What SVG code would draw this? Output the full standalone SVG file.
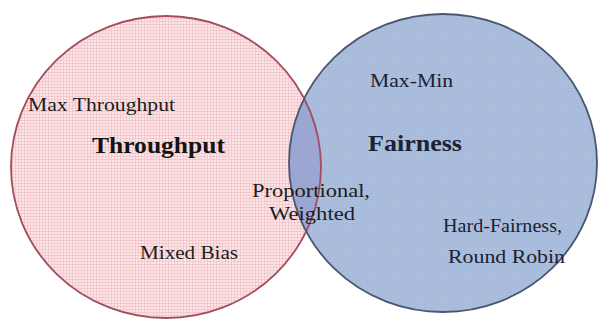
<svg xmlns="http://www.w3.org/2000/svg" width="598" height="322" viewBox="0 0 598 322">
  <defs>
    <pattern id="pinkGrid" width="3" height="3" patternUnits="userSpaceOnUse">
      <rect width="3" height="3" fill="#fbe6e8"/>
      <path d="M0 0.5H3M0.5 0V3" stroke="#f3c9ce" stroke-width="1"/>
    </pattern>
    <pattern id="blueDots" width="3" height="3" patternUnits="userSpaceOnUse">
      <rect width="3" height="3" fill="#aabddc"/>
      <rect x="1" y="1" width="1" height="1" fill="#a0b4d6"/>
    </pattern>
    <clipPath id="rightClip">
      <ellipse cx="443" cy="163" rx="154" ry="149"/>
    </clipPath>
  </defs>
  <style>
    text { font-family: 'Liberation Serif', 'Times New Roman', Times, serif; }
    .lbl { font-size: 19px; fill: #1c1c1c; }
    .ttl { font-size: 24px; font-weight: bold; fill: #141414; }
    .blue { fill: #1a2233; }
  </style>
  <rect width="598" height="322" fill="#ffffff"/>

  <g id="throughput">
    <ellipse cx="166" cy="167" rx="155" ry="151" fill="url(#pinkGrid)"/>
  </g>
  <g id="fairness">
    <ellipse cx="443" cy="163" rx="154" ry="149" fill="url(#blueDots)"/>
  </g>
  <g id="overlap">
    <ellipse cx="166" cy="167" rx="155" ry="151" fill="#9ba7d2" clip-path="url(#rightClip)"/>
  </g>
  <g id="outlines">
    <ellipse cx="166" cy="167" rx="155" ry="151" fill="none" stroke="#a24c5c" stroke-width="1.8"/>
    <ellipse cx="443" cy="163" rx="154" ry="149" fill="none" stroke="#4a5670" stroke-width="1.8"/>
  </g>
  <g id="connectors"/>

  <g id="throughput-labels">
    <text class="lbl" x="28" y="111" textLength="147" lengthAdjust="spacingAndGlyphs">Max Throughput</text>
    <text class="ttl" x="92" y="153" textLength="133" lengthAdjust="spacingAndGlyphs">Throughput</text>
    <text class="lbl" x="140" y="259" textLength="98" lengthAdjust="spacingAndGlyphs">Mixed Bias</text>
  </g>
  <g id="overlap-labels">
    <text class="lbl" x="252" y="197" textLength="118" lengthAdjust="spacingAndGlyphs">Proportional,</text>
    <text class="lbl" x="269" y="220" textLength="86" lengthAdjust="spacingAndGlyphs">Weighted</text>
  </g>
  <g id="fairness-labels">
    <text class="lbl blue" x="370" y="87" textLength="83" lengthAdjust="spacingAndGlyphs">Max-Min</text>
    <text class="ttl blue" x="368" y="151" textLength="94" lengthAdjust="spacingAndGlyphs">Fairness</text>
    <text class="lbl blue" x="443" y="232" textLength="119" lengthAdjust="spacingAndGlyphs">Hard-Fairness,</text>
    <text class="lbl blue" x="448" y="263" textLength="117" lengthAdjust="spacingAndGlyphs">Round Robin</text>
  </g>
</svg>
